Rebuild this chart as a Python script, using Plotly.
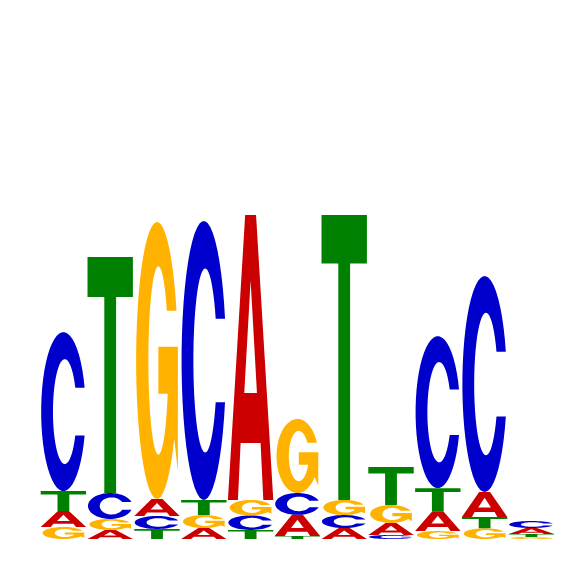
import numpy as np
import plotly.graph_objects as go

# letter heights (bits) per position
positions = list(range(1, 12))
heights_A = [0.099, 0.056, 0.105, 0.068, 1.759, 0.130, 0.068, 0.074, 0.123, 0.154, 0.037]
heights_C = [0.981, 0.160, 0.080, 1.722, 0.090, 0.135, 0.080, 0.025, 0.938, 1.333, 0.043]
heights_G = [0.074, 0.068, 1.710, 0.080, 0.095, 0.457, 0.093, 0.111, 0.049, 0.066, 0.012]
heights_T = [0.123, 1.457, 0.062, 0.093, 0.056, 0.019, 1.759, 0.235, 0.142, 0.070, 0.019]

colors = {'A': '#CC0000', 'C': '#0000CC', 'G': '#FFB300', 'T': '#008000'}
letter_w = 0.97


def arc(cx, cy, rx, ry, a0, a1, n=48):
    t = np.linspace(a0, a1, n)
    return list(zip(cx + rx * np.cos(t), cy + ry * np.sin(t)))


# glyph outlines in a unit box, (0,0) bottom-left
def glyph(letter):
    if letter == 'T':
        return [[(0, 1), (1, 1), (1, 0.83), (0.63, 0.83), (0.63, 0),
                 (0.37, 0), (0.37, 0.83), (0, 0.83)]]
    if letter == 'A':
        outer = [(0, 0), (0.38, 1), (0.62, 1), (1, 0), (0.78, 0),
                 (0.72, 0.2), (0.28, 0.2), (0.22, 0)]
        hole = [(0.36, 0.375), (0.64, 0.375), (0.5, 0.77)]
        return [outer, hole]
    if letter == 'C':
        t_out = np.arcsin(0.15 / 0.5)
        b_out = np.arcsin(-0.15 / 0.5)
        t_in = np.arcsin(0.15 / 0.33)
        b_in = np.arcsin(-0.15 / 0.33)
        pts = arc(0.5, 0.5, 0.49, 0.5, t_out, 2 * np.pi + b_out)
        pts += arc(0.53, 0.5, 0.26, 0.33, 2 * np.pi + b_in, t_in)
        return [pts]
    if letter == 'G':
        t_out = np.arcsin(0.18 / 0.5)
        t_in = np.arcsin(0.18 / 0.34)
        pts = arc(0.5, 0.5, 0.46, 0.5, t_out, 2 * np.pi - 0.6)
        pts += [(0.96, 0.10), (0.96, 0.55), (0.53, 0.55), (0.53, 0.38), (0.74, 0.38)]
        pts += arc(0.53, 0.5, 0.22, 0.34, np.arcsin(-0.12 / 0.34), t_in - 2 * np.pi)
        return [pts]


def to_path(polys, x0, y0, w, h):
    s = ''
    for poly in polys:
        s += 'M' + 'L'.join(f'{x0 + u * w:.4f},{y0 + v * h:.4f}' for u, v in poly) + 'Z'
    return s


fig = go.Figure()
fig.add_trace(go.Scatter(x=positions, y=[0] * len(positions), mode='markers',
                         marker=dict(opacity=0), hoverinfo='skip', showlegend=False))

shapes = []
for i, pos in enumerate(positions):
    col = {'A': heights_A[i], 'C': heights_C[i], 'G': heights_G[i], 'T': heights_T[i]}
    base = 0.0
    for letter, h in sorted(col.items(), key=lambda kv: kv[1]):
        shapes.append(dict(type='path', xref='x', yref='y',
                           path=to_path(glyph(letter), pos - letter_w / 2, base, letter_w, h),
                           fillcolor=colors[letter], fillrule='evenodd',
                           line=dict(width=0), layer='above'))
        base += h

fig.update_layout(
    width=566, height=566,
    margin=dict(l=0, r=0, t=0, b=0),
    paper_bgcolor='white', plot_bgcolor='white',
    xaxis=dict(range=[-0.1838, 11.910], visible=False),
    yaxis=dict(range=[-0.216, 3.278], visible=False),
    shapes=shapes,
    showlegend=False,
)

fig.write_html("out.html")
